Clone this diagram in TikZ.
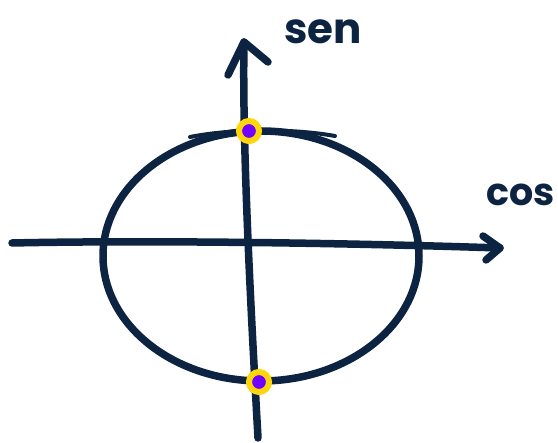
\documentclass[tikz,border=0pt]{standalone}
\usepackage{fontspec}
\setmainfont{Poppins}
\definecolor{ink}{HTML}{0C2341}
\definecolor{ringy}{HTML}{FFD60A}
\definecolor{dotp}{HTML}{7000FF}
\tikzset{
  stroke/.style={draw=ink, line width=7.5pt, line cap=round, line join=round},
  ring/.style={circle, draw=ringy, line width=6pt, fill=dotp, minimum size=20pt, inner sep=0pt},
  lbl/.style={text=ink, font=\fontsize{42}{42}\selectfont\bfseries, inner sep=0pt}
}
\begin{document}
\begin{tikzpicture}[x=1pt,y=-1pt]
\useasboundingbox (0,0) rectangle (558,443);
% circle
\draw[stroke] (261,256) ellipse [x radius=158, y radius=125];
\draw[stroke, line width=4pt] (190,137) .. controls (230,129) and (290,128) .. (335,136);
% horizontal axis
\coordinate (hl) at (12,243);
\coordinate (hr) at (500,248);
\draw[stroke] (hl) .. controls (150,240) and (350,243) .. (hr);
\draw[stroke] (483,236) -- (hr) -- (486,260);
% vertical axis
\coordinate (vt) at (244,42);
\coordinate (vb) at (258,438);
\draw[stroke] (vt) .. controls (242,150) and (252,330) .. (vb);
\draw[stroke] (228,75) -- (vt) -- (268,62);
% dots
\node[ring] (d1) at (249,131) {};
\node[ring] (d2) at (259,382) {};
% labels
\node[lbl, anchor=base west] (sen) at (284,44) {sen};
\node[lbl, anchor=base east, font=\fontsize{38}{38}\selectfont\bfseries] (cos) at (555,206) {cos};
\end{tikzpicture}
\end{document}
